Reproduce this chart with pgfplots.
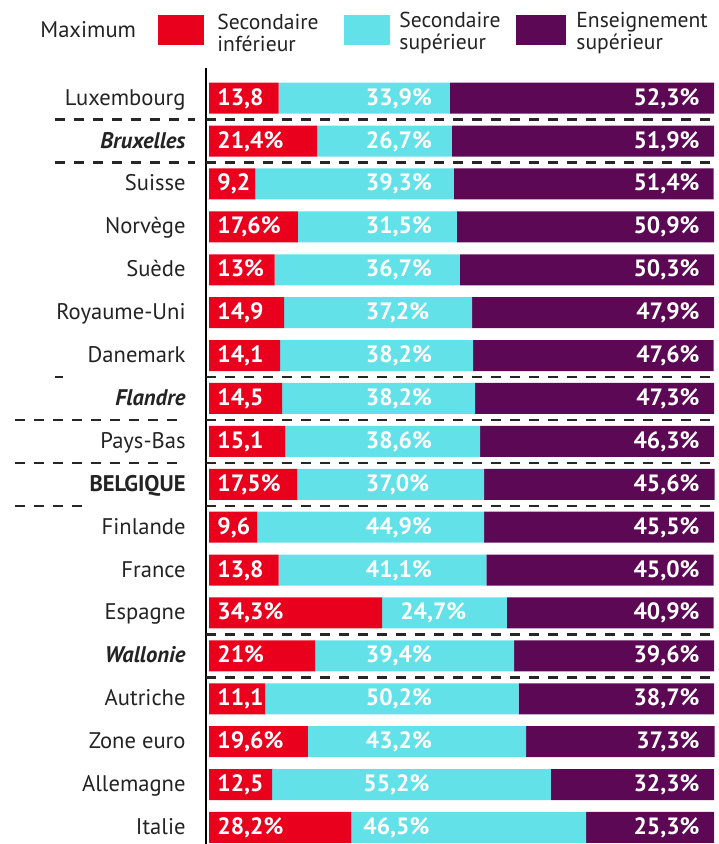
\documentclass[border=0pt]{standalone}
\usepackage{fontspec}
\setmainfont{PT Sans}
\usepackage{pgfplots}
\usepackage{pgfplotstable}
\pgfplotsset{compat=1.18}
\definecolor{cRed}{RGB}{232,0,28}
\definecolor{cCyan}{RGB}{98,226,232}
\definecolor{cPurple}{RGB}{92,8,84}
\definecolor{cText}{RGB}{35,35,35}

\pgfplotstableread{
y lo hi sup
17 13.8 33.9 52.3
16 21.4 26.7 51.9
15 9.2 39.3 51.4
14 17.6 31.5 50.9
13 13.0 36.7 50.3
12 14.9 37.2 47.9
11 14.1 38.2 47.6
10 14.5 38.2 47.3
9 15.1 38.6 46.3
8 17.5 37.0 45.6
7 9.6 44.9 45.5
6 13.8 41.1 45.0
5 34.3 24.7 40.9
4 21.0 39.4 39.6
3 11.1 50.2 38.7
2 19.6 43.2 37.3
1 12.5 55.2 32.3
0 28.2 46.5 25.3
}\data

\pgfplotstableread{
y x l
17 1.6 13,8
16 1.6 21,4\%
15 1.6 9,2
14 1.6 17,6\%
13 1.6 13\%
12 1.6 14,9
11 1.6 14,1
10 1.6 14,5
9 1.6 15,1
8 1.6 17,5\%
7 1.6 9,6
6 1.6 13,8
5 1.6 34,3\%
4 1.6 21\%
3 1.6 11,1
2 1.6 19,6\%
1 1.6 12,5
0 1.6 28,2\%
}\lablo

\pgfplotstableread{
y x l
17 31.0 33,9\%
16 31.0 26,7\%
15 31.0 39,3\%
14 31.0 31,5\%
13 31.0 36,7\%
12 31.0 37,2\%
11 31.0 38,2\%
10 31.0 38,2\%
9 31.0 38,6\%
8 31.0 37,0\%
7 31.0 44,9\%
6 31.0 41,1\%
5 37.8 24,7\%
4 31.0 39,4\%
3 31.0 50,2\%
2 31.0 43,2\%
1 30.5 55,2\%
0 30.5 46,5\%
}\labhi

\pgfplotstableread{
y x l
17 97.2 52,3\%
16 97.2 51,9\%
15 97.2 51,4\%
14 97.2 50,9\%
13 97.2 50,3\%
12 97.2 47,9\%
11 97.2 47,6\%
10 97.2 47,3\%
9 97.2 46,3\%
8 97.2 45,6\%
7 97.2 45,5\%
6 97.2 45,0\%
5 97.2 40,9\%
4 97.2 39,6\%
3 97.2 38,7\%
2 97.2 37,3\%
1 97.2 32,3\%
0 97.2 25,3\%
}\labsup

\begin{document}
\begin{tikzpicture}
\useasboundingbox (0,0) rectangle (359pt,422pt);
\pgfplotsset{
  common/.style={
    at={(102.985pt,0pt)}, anchor=south west,
    scale only axis, width=254.015pt, height=388pt,
    xmin=-0.6, xmax=100, ymin=-0.385, ymax=17.704,
    clip=false,
  },
  barlab/.style={
    only marks, mark=none, nodes near coords,
    point meta=explicit symbolic,
    nodes near coords style={inner sep=0pt, text=white,
      font=\fontsize{11.8}{13}\selectfont\bfseries,
      text height=0.7em, text depth=0pt, #1},
  },
}
\begin{axis}[common,
  xbar stacked, bar width=15.5pt,
  axis x line=none, axis y line*=left,
  y axis line style={line width=1.1pt, black, -},
  xtick=\empty,
  ytick={0,...,17},
  yticklabels={Italie, Allemagne, Zone euro, Autriche, \textbf{\textit{Wallonie}}, Espagne, France, Finlande, \textbf{BELGIQUE}, Pays-Bas, \textbf{\textit{Flandre}}, Danemark, Royaume-Uni, Suède, Norvège, Suisse, \textbf{\textit{Bruxelles}}, Luxembourg},
  major tick length=0pt,
  yticklabel style={anchor=east, inner sep=0pt, xshift=-10pt, text=cText,
    font=\fontsize{11.3}{13}\selectfont, text height=0.7em, text depth=0pt},
]
\addplot[fill=cRed, draw=none] table[x=lo, y=y] {\data};
\addplot[fill=cCyan, draw=none] table[x=hi, y=y] {\data};
\addplot[fill=cPurple, draw=none] table[x=sup, y=y] {\data};
\pgfplotsinvokeforeach{16.5,15.5,10.5,9.5,8.5,7.5,4.5,3.5}{
  \draw[line width=1.2pt, color=black!85, dash pattern=on 5pt off 4.5pt] (axis cs:-0.6,#1) -- (axis cs:100.8,#1);
}
\draw[line width=1.2pt, color=black!85, dash pattern=on 5pt off 4.5pt] (axis cs:-30.5,16.5) -- (axis cs:-2.8,16.5);
\draw[line width=1.2pt, color=black!85, dash pattern=on 5pt off 4.5pt] (axis cs:-30.5,15.5) -- (axis cs:-2.8,15.5);
\draw[line width=1.2pt, color=black!85, dash pattern=on 5pt off 4.5pt] (axis cs:-30.5,10.5) -- (axis cs:-28.9,10.5);
\draw[line width=1.2pt, color=black!85, dash pattern=on 5pt off 4.5pt] (axis cs:-38.4,9.5) -- (axis cs:-4.8,9.5);
\draw[line width=1.2pt, color=black!85, dash pattern=on 5pt off 4.5pt] (axis cs:-38.4,8.5) -- (axis cs:-4.8,8.5);
\draw[line width=1.2pt, color=black!85, dash pattern=on 5pt off 4.5pt] (axis cs:-38.4,7.5) -- (axis cs:-25.1,7.5);
\end{axis}
\begin{axis}[common, hide axis]
\addplot[barlab={anchor=west}] table[x=x, y=y, meta=l] {\lablo};
\addplot[barlab={anchor=west}] table[x=x, y=y, meta=l] {\labhi};
\addplot[barlab={anchor=east}] table[x=x, y=y, meta=l] {\labsup};
\end{axis}
% legend
\node[anchor=west, inner sep=0pt, text=cText, font=\fontsize{11.3}{13}\selectfont] at (20pt,407pt) {Maximum};
\fill[cRed] (79pt,399.5pt) rectangle (102pt,414.5pt);
\fill[cCyan] (172pt,399.5pt) rectangle (195pt,414.5pt);
\fill[cPurple] (258pt,399.5pt) rectangle (283pt,414.5pt);
\begin{scope}[every node/.style={anchor=west, inner sep=0pt, text=cText, align=left,
    font=\fontsize{10.8}{11.2}\selectfont}]
\node at (108.5pt,405.5pt) {Secondaire\\inférieur};
\node at (199.5pt,405.5pt) {Secondaire\\supérieur};
\node at (288pt,405.5pt) {Enseignement\\supérieur};
\end{scope}
\end{tikzpicture}
\end{document}
